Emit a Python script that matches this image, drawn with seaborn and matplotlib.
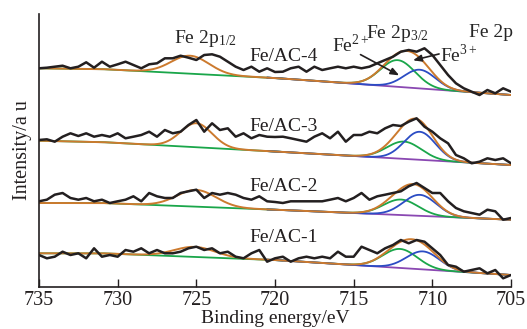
import numpy as np
import pandas as pd
import matplotlib
matplotlib.use("Agg")
import matplotlib.pyplot as plt
import seaborn as sns

# ---------------- data ----------------
samples = ["Fe/AC-1", "Fe/AC-2", "Fe/AC-3", "Fe/AC-4"]
binding_energy = np.linspace(735, 705, 61)   # eV, 0.5 eV sampling

raw_ac1 = [45, 41.7, 43.3, 48.3, 45, 46.7, 41.7, 51.7, 43.3, 45, 43.3, 50, 48.3, 51.7,
           46.7, 50, 46.7, 46.7, 48.3, 51.7, 53.3, 50, 51.7, 46.7, 48.3, 43.3, 41.7, 46.7,
           50, 38.3, 41.7,
           43.3, 38.3, 41.7, 43.3, 41.7, 43.3, 41.7, 48.3, 43.3, 43.3, 53.3, 50, 46.7, 51.7,
           55, 60, 56.7, 60, 58.3, 51.7, 45, 35, 33.3, 28.3, 30, 31.7, 26.7, 30, 21.7, 25]
raw_ac2 = [98.7, 100.3, 105.3, 107, 102, 100.3, 102, 98.7, 100.3, 97, 98.7, 100.3, 103.7,
           98.7, 107, 103.7, 102, 102, 107, 108.7, 110.3, 102, 107, 105.3, 107, 105.3, 102,
           100.3, 103.7, 98.7, 98,
           97, 98.7, 98.7, 98.7, 98.7, 98.7, 100.3, 102, 98.7, 102, 107, 100.3, 103.7, 105.3,
           107, 108.7, 113.7, 117, 112, 107, 107, 98.7, 92, 88.7, 87, 85.3, 90.3, 88.7, 80.3, 82]
raw_ac3 = [160, 160.7, 158.3, 163.3, 166.7, 164, 166.7, 163.3, 165, 163.3, 166.7, 161.7,
           163.3, 165, 168.3, 163.3, 170, 166.7, 168.3, 175, 180, 168.3, 176.7, 170, 171.7,
           163.3, 166.7, 161.7, 165, 163.3, 163,
           163.3, 161.7, 160, 158.3, 163.3, 166.7, 161.7, 168.3, 158.3, 165, 165, 168.3, 166.7,
           171.7, 175, 174, 178.3, 181.7, 173.3, 168.3, 161.7, 156.7, 145, 141.7, 136.7, 138.3,
           141.7, 140, 141.7, 136.7]
raw_ac4 = [231.7, 232.3, 233.3, 234.3, 231.7, 233.3, 237.7, 232.3, 238.3, 233.3, 235.7,
           238.3, 235, 231.7, 235.7, 236.7, 241.7, 241.7, 244.3, 242.3, 240, 245, 245.7,
           243.3, 238.3, 233.3, 230, 233.3, 228.3, 231.7, 228,
           228.3, 231.7, 233.3, 228.3, 233.3, 230, 231.7, 233.3, 231.7, 233.3, 231.7, 233.3,
           236.7, 240, 243.3, 248.3, 250, 248.3, 251.7, 245, 235, 225, 216.7, 211.7, 208.3,
           205, 210, 206.7, 211.7, 208.3]
raw_spectra = [raw_ac1, raw_ac2, raw_ac3, raw_ac4]

# fitted background (knots) per sample
bg_knot_energy = [735, 731, 720, 705]
bg_knots = [[46.7, 46.7, 40.0, 25.0],
            [97.0, 97.0, 90.3, 80.3],
            [159.3, 157.9, 148.5, 135.0],
            [231.7, 230.9, 222.0, 205.0]]

# fitted Gaussian components: (centre eV, height, sigma eV)
peak_2p12 = [(725.1, 10.0, 1.3), (725.0, 16.7, 1.25), (725.0, 24.0, 1.0), (725.4, 17.9, 1.2)]
peak_green = [(712.05, 19.0, 1.1), (712.0, 15.5, 1.1), (711.8, 17.3, 1.1), (712.2, 26.7, 1.1)]
peak_blue = [(710.6, 18.0, 1.05), (710.8, 21.0, 1.05), (710.8, 28.0, 1.0), (710.8, 18.7, 1.0)]

xticks = [735, 730, 725, 720, 715, 710, 705]

# ---------------- styling ----------------
sns.set_style("ticks")
plt.rcParams["font.family"] = ["Liberation Serif", "DejaVu Serif"]
plt.rcParams["mathtext.fontset"] = "stix"

C_BLACK = "#231f20"
C_ORANGE = "#cc7a2e"
C_GREEN = "#1aa64a"
C_BLUE = "#2b4cc4"
C_PURPLE = "#8a48b2"

fig = plt.figure(figsize=(5.27, 3.29), dpi=100)
ax = fig.add_axes([39 / 527, 42 / 329, 472 / 527, 273 / 329])

fine_e = np.linspace(735, 705, 601)


def gauss(e, p):
    c, h, s = p
    return h * np.exp(-(e - c) ** 2 / (2 * s ** 2))


for i in range(4):
    bg = np.interp(fine_e, bg_knot_energy[::-1], bg_knots[i][::-1])
    low = fine_e <= 720.5
    high = fine_e >= 719.5
    green = bg + gauss(fine_e, peak_green[i])
    blue = bg + gauss(fine_e, peak_blue[i])
    env = bg + gauss(fine_e, peak_2p12[i]) + gauss(fine_e, peak_green[i]) + gauss(fine_e, peak_blue[i])

    sns.lineplot(x=fine_e[high], y=bg[high], color=C_GREEN, lw=1.3, ax=ax, sort=False)
    sns.lineplot(x=fine_e[low], y=bg[low], color=C_PURPLE, lw=1.3, ax=ax, sort=False)
    sns.lineplot(x=fine_e[low], y=green[low], color=C_GREEN, lw=1.3, ax=ax, sort=False)
    sns.lineplot(x=fine_e[low], y=blue[low], color=C_BLUE, lw=1.3, ax=ax, sort=False)
    sns.lineplot(x=fine_e, y=env, color=C_ORANGE, lw=1.4, ax=ax, sort=False)
    sns.lineplot(x=binding_energy, y=raw_spectra[i], color=C_BLACK, lw=1.8, ax=ax, sort=False)

ax.set_xlim(735, 705)
ax.set_ylim(13, 286)
ax.set_xticks(xticks)
ax.set_xticklabels([str(t) for t in xticks])
ax.set_yticks([])
ax.tick_params(axis="x", direction="in", length=6, width=1.0, pad=3, labelsize=14.5,
               colors=C_BLACK)
for s in ["top", "right"]:
    ax.spines[s].set_visible(False)
for s in ["left", "bottom"]:
    ax.spines[s].set_linewidth(1.2)
    ax.spines[s].set_color(C_BLACK)

ax.set_xlabel("Binding energy/eV", fontsize=14, color=C_BLACK)
ax.set_ylabel("Intensity/a u", fontsize=14.5, color=C_BLACK)
ax.xaxis.set_label_coords(0.5, -0.083)
ax.yaxis.set_label_coords(-0.014, 0.5)

fs = 14
label_base = [58.3, 109.3, 169.3, 239.3]
for name, yb in zip(samples, label_base):
    ax.text(721.6, yb, name, fontsize=fs, ha="left", va="baseline", color=C_BLACK)

ax.text(726.4, 256.7, r"Fe 2p$_{\mathregular{1/2}}$", fontsize=fs, ha="left", va="baseline")
ax.text(714.2, 261.7, r"Fe 2p$_{\mathregular{3/2}}$", fontsize=fs, ha="left", va="baseline")
ax.text(707.7, 263.3, "Fe 2p", fontsize=fs, ha="left", va="baseline")
ax.text(716.4, 248.3, r"Fe$^{\mathregular{2+}}$", fontsize=fs, ha="left", va="baseline")
ax.text(709.5, 237.7, r"Fe$^{\mathregular{3+}}$", fontsize=fs, ha="left", va="baseline")

arrow_kw = dict(arrowstyle="-|>,head_length=0.5,head_width=0.2", color=C_BLACK, lw=1.2)
ax.annotate("", xy=(711.95, 223.3), xytext=(714.72, 246.7), arrowprops=arrow_kw)
ax.annotate("", xy=(711.4, 239.0), xytext=(709.4, 246.7), arrowprops=arrow_kw)

fig.savefig("out.png", dpi=100)
